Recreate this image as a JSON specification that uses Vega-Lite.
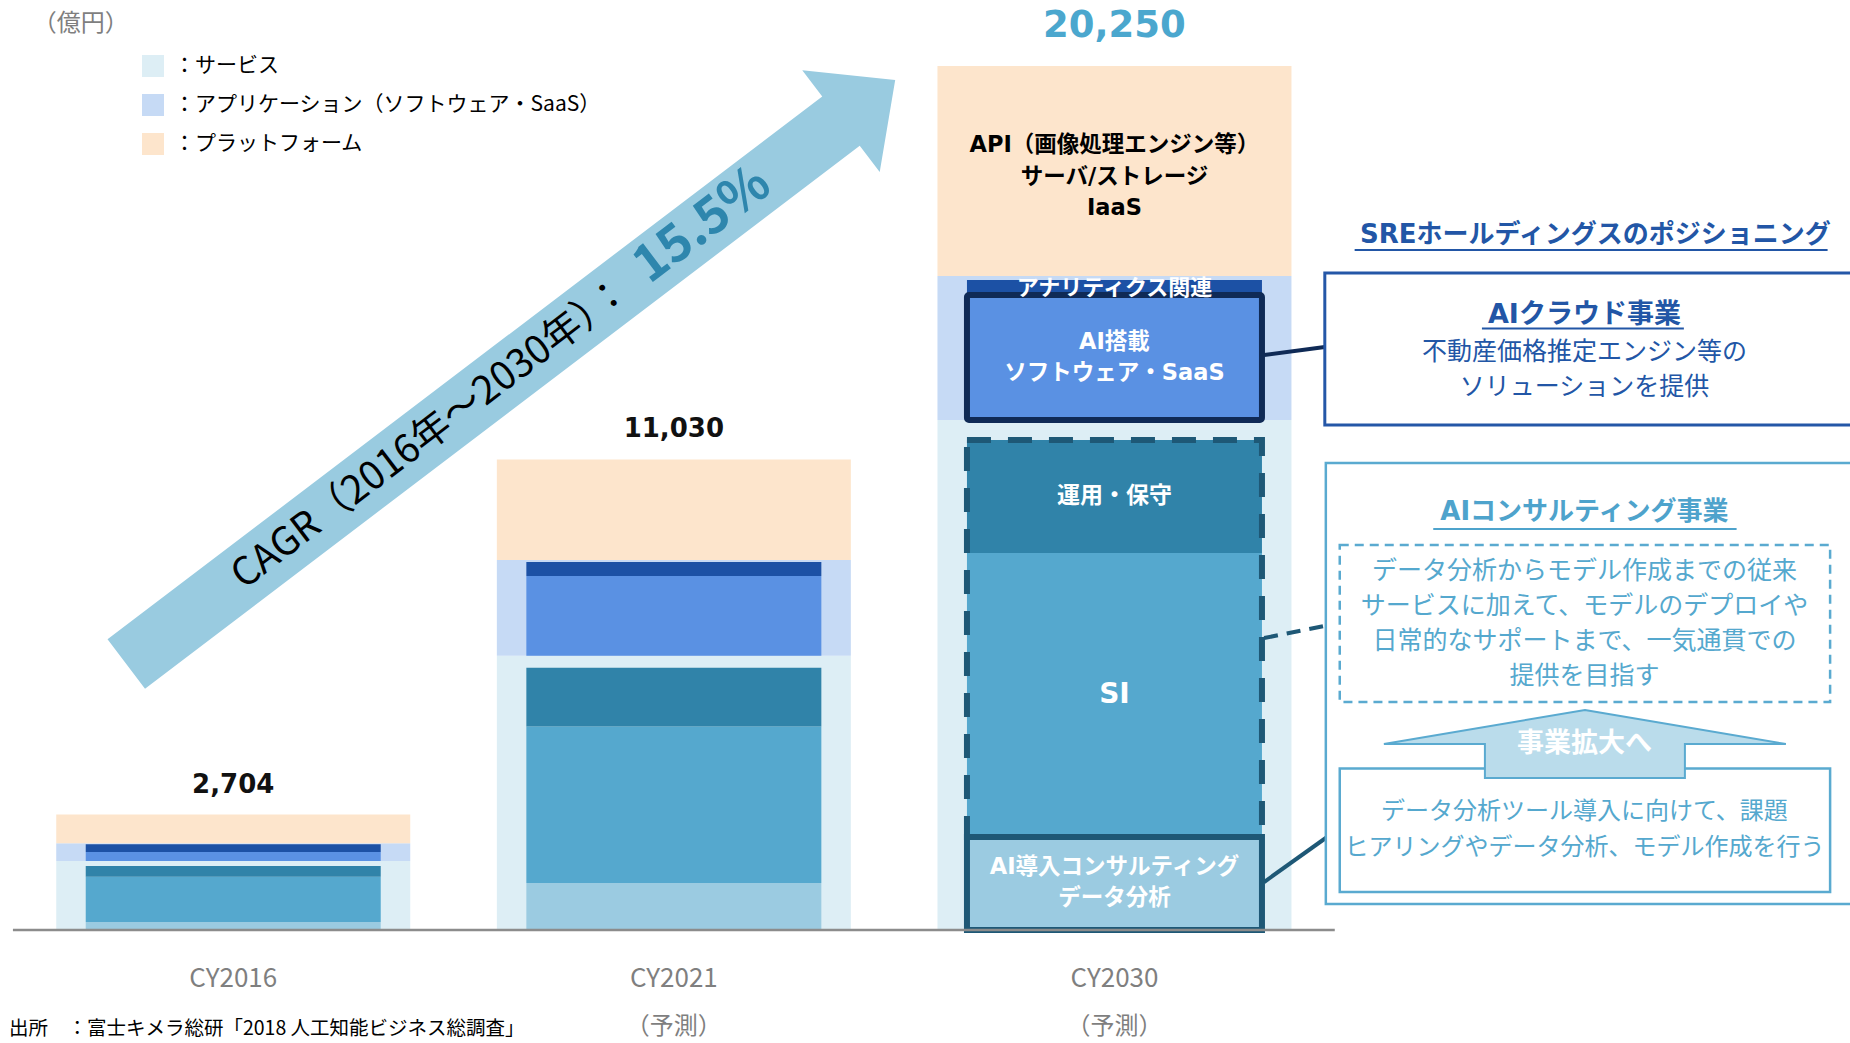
{
  "$schema": "https://vega.github.io/schema/vega-lite/v6.json",
  "width": 1850,
  "height": 1043,
  "padding": 0,
  "autosize": {"type": "none"},
  "background": "white",
  "config": {"view": {"stroke": null}},
  "datasets": {
    "outer": [
      {"year": "CY2016", "idx": 0, "seg": "サービス", "ord": 1, "value": 1618},
      {"year": "CY2016", "idx": 0, "seg": "アプリケーション（ソフトウェア・SaaS）", "ord": 2, "value": 416},
      {"year": "CY2016", "idx": 0, "seg": "プラットフォーム", "ord": 3, "value": 670},
      {"year": "CY2021", "idx": 1, "seg": "サービス", "ord": 1, "value": 6427},
      {"year": "CY2021", "idx": 1, "seg": "アプリケーション（ソフトウェア・SaaS）", "ord": 2, "value": 2243},
      {"year": "CY2021", "idx": 1, "seg": "プラットフォーム", "ord": 3, "value": 2360},
      {"year": "CY2030", "idx": 2, "seg": "サービス", "ord": 1, "value": 11953},
      {"year": "CY2030", "idx": 2, "seg": "アプリケーション（ソフトウェア・SaaS）", "ord": 2, "value": 3375},
      {"year": "CY2030", "idx": 2, "seg": "プラットフォーム", "ord": 3, "value": 4922, "note": "API（画像処理エンジン等）\nサーバ/ストレージ\nIaaS"}
    ],
    "inner": [
      {"year": "CY2016", "idx": 0, "seg": "AI導入コンサルティング・データ分析", "ord": 1, "value": 185},
      {"year": "CY2016", "idx": 0, "seg": "SI", "ord": 2, "value": 1063},
      {"year": "CY2016", "idx": 0, "seg": "運用・保守", "ord": 3, "value": 254},
      {"year": "CY2016", "idx": 0, "seg": "その他サービス", "ord": 4, "value": 116},
      {"year": "CY2016", "idx": 0, "seg": "AI搭載ソフトウェア・SaaS", "ord": 5, "value": 208},
      {"year": "CY2016", "idx": 0, "seg": "アナリティクス関連", "ord": 6, "value": 185},
      {"year": "CY2021", "idx": 1, "seg": "AI導入コンサルティング・データ分析", "ord": 1, "value": 1098},
      {"year": "CY2021", "idx": 1, "seg": "SI", "ord": 2, "value": 3669},
      {"year": "CY2021", "idx": 1, "seg": "運用・保守", "ord": 3, "value": 1379},
      {"year": "CY2021", "idx": 1, "seg": "その他サービス", "ord": 4, "value": 281},
      {"year": "CY2021", "idx": 1, "seg": "AI搭載ソフトウェア・SaaS", "ord": 5, "value": 1870},
      {"year": "CY2021", "idx": 1, "seg": "アナリティクス関連", "ord": 6, "value": 327},
      {"year": "CY2030", "idx": 2, "seg": "AI導入コンサルティング・データ分析", "ord": 1, "value": 2180, "label": "AI導入コンサルティング\nデータ分析"},
      {"year": "CY2030", "idx": 2, "seg": "SI", "ord": 2, "value": 6657, "label": "SI"},
      {"year": "CY2030", "idx": 2, "seg": "運用・保守", "ord": 3, "value": 2649, "label": "運用・保守"},
      {"year": "CY2030", "idx": 2, "seg": "その他サービス", "ord": 4, "value": 467},
      {"year": "CY2030", "idx": 2, "seg": "AI搭載ソフトウェア・SaaS", "ord": 5, "value": 2930, "label": "AI搭載\nソフトウェア・SaaS"},
      {"year": "CY2030", "idx": 2, "seg": "アナリティクス関連", "ord": 6, "value": 352, "label": "アナリティクス関連"}
    ],
    "years": [
      {"year": "CY2016", "idx": 0},
      {"year": "CY2021", "idx": 1, "note": "（予測）"},
      {"year": "CY2030", "idx": 2, "note": "（予測）"}
    ]
  },
  "layer": [
    {
      "data": {"values": [{"name": "CAGR"}]},
      "mark": {"type": "point", "shape": "M -1 -0.0642 L 0.859 -0.0642 L 0.859 -0.1326 L 1 0 L 0.859 0.1326 L 0.859 0.0642 L -1 0.0642 Z", "size": 932383, "angle": -37.22, "filled": true, "fill": "#99CBE0", "opacity": 1, "strokeWidth": 0},
      "encoding": {
        "x": {"datum": 0.6298, "scale": {"domain": [-0.518, 3.658]}, "axis": null},
        "y": {"datum": 13080, "scale": {"domain": [-2650, 21800]}, "axis": null}
      }
    },
    {
      "data": {"values": [{"name": "CAGR"}]},
      "mark": {"type": "text", "font": "Noto Sans CJK JP", "fontSize": 39, "angle": -37.22, "align": "center", "baseline": "middle", "color": "#000000"},
      "encoding": {
        "x": {"datum": 0.4485, "scale": {"domain": [-0.518, 3.658]}, "axis": null},
        "y": {"datum": 11650, "scale": {"domain": [-2650, 21800]}, "axis": null},
        "text": {"value": "CAGR（2016年～2030年）："}
      }
    },
    {
      "data": {"values": [{"name": "CAGR"}]},
      "mark": {"type": "text", "font": "Noto Sans CJK JP", "fontSize": 51, "fontWeight": "bold", "angle": -37.22, "align": "center", "baseline": "middle", "color": "#2E86AD"},
      "encoding": {
        "x": {"datum": 1.0652, "scale": {"domain": [-0.518, 3.658]}, "axis": null},
        "y": {"datum": 16514, "scale": {"domain": [-2650, 21800]}, "axis": null},
        "text": {"value": "15.5%"}
      }
    },
    {
      "data": {"values": [{"name": "unit"}]},
      "mark": {"type": "text", "font": "Noto Sans CJK JP", "fontSize": 24, "align": "left", "baseline": "middle", "color": "#7F7F7F"},
      "encoding": {
        "x": {"datum": -0.4549, "scale": {"domain": [-0.518, 3.658]}, "axis": null},
        "y": {"datum": 21237, "scale": {"domain": [-2650, 21800]}, "axis": null},
        "text": {"value": "（億円）"}
      }
    },
    {
      "data": {"name": "outer"},
      "transform": [{"stack": "value", "groupby": ["year"], "sort": [{"field": "ord", "order": "ascending"}], "as": ["v0", "v1"]}],
      "mark": {"type": "bar", "width": 354},
      "encoding": {
        "x": {"field": "idx", "type": "quantitative", "scale": {"domain": [-0.518, 3.658]}, "axis": null},
        "y": {"field": "v0", "type": "quantitative", "scale": {"domain": [-2650, 21800]}, "axis": null},
        "y2": {"field": "v1"},
        "color": {
          "field": "seg", "type": "nominal",
          "scale": {"domain": ["サービス", "アプリケーション（ソフトウェア・SaaS）", "プラットフォーム"], "range": ["#DDEEF5", "#C6DAF5", "#FDE5CC"]},
          "legend": {"title": null, "orient": "none", "legendX": 142, "legendY": 55, "padding": 0, "symbolType": "square", "symbolSize": 484, "symbolStrokeWidth": 0, "symbolOpacity": 1, "labelFont": "Noto Sans CJK JP", "labelFontSize": 21, "labelColor": "#000000", "labelExpr": "'：' + datum.label", "rowPadding": 17, "labelOffset": 10, "labelLimit": 700}
        }
      }
    },
    {
      "data": {"name": "inner"},
      "transform": [{"stack": "value", "groupby": ["year"], "sort": [{"field": "ord", "order": "ascending"}], "as": ["v0", "v1"]}],
      "mark": {"type": "bar", "width": 295},
      "encoding": {
        "x": {"field": "idx", "type": "quantitative", "scale": {"domain": [-0.518, 3.658]}, "axis": null},
        "y": {"field": "v0", "type": "quantitative", "scale": {"domain": [-2650, 21800]}, "axis": null},
        "y2": {"field": "v1"},
        "fill": {
          "field": "seg", "type": "nominal",
          "scale": {"domain": ["AI導入コンサルティング・データ分析", "SI", "運用・保守", "その他サービス", "AI搭載ソフトウェア・SaaS", "アナリティクス関連"], "range": ["#9BCBE1", "#55A8CE", "#3083A9", "transparent", "#5A91E3", "#1C51A5"]},
          "legend": null
        }
      }
    },
    {
      "data": {"name": "inner"},
      "transform": [
        {"stack": "value", "groupby": ["year"], "sort": [{"field": "ord", "order": "ascending"}], "as": ["v0", "v1"]},
        {"filter": "datum.year === 'CY2030' && (datum.seg === 'SI' || datum.seg === '運用・保守')"},
        {"aggregate": [{"op": "min", "field": "v0", "as": "lo"}, {"op": "max", "field": "v1", "as": "hi"}], "groupby": ["idx"]}
      ],
      "mark": {"type": "bar", "width": 295, "fillOpacity": 0, "stroke": "#1E5876", "strokeWidth": 6, "strokeDash": [24, 17]},
      "encoding": {
        "x": {"field": "idx", "type": "quantitative", "scale": {"domain": [-0.518, 3.658]}, "axis": null},
        "y": {"field": "lo", "type": "quantitative", "scale": {"domain": [-2650, 21800]}, "axis": null},
        "y2": {"field": "hi"}
      }
    },
    {
      "data": {"name": "inner"},
      "transform": [
        {"stack": "value", "groupby": ["year"], "sort": [{"field": "ord", "order": "ascending"}], "as": ["v0", "v1"]},
        {"filter": "datum.year === 'CY2030' && datum.seg === 'AI導入コンサルティング・データ分析'"}
      ],
      "mark": {"type": "bar", "width": 295, "fillOpacity": 0, "stroke": "#1E5876", "strokeWidth": 6},
      "encoding": {
        "x": {"field": "idx", "type": "quantitative", "scale": {"domain": [-0.518, 3.658]}, "axis": null},
        "y": {"field": "v0", "type": "quantitative", "scale": {"domain": [-2650, 21800]}, "axis": null},
        "y2": {"field": "v1"}
      }
    },
    {
      "data": {"name": "inner"},
      "transform": [
        {"stack": "value", "groupby": ["year"], "sort": [{"field": "ord", "order": "ascending"}], "as": ["v0", "v1"]},
        {"filter": "datum.year === 'CY2030' && datum.seg === 'AI搭載ソフトウェア・SaaS'"}
      ],
      "mark": {"type": "bar", "width": 295, "fillOpacity": 0, "stroke": "#0F2A56", "strokeWidth": 6, "cornerRadius": 2},
      "encoding": {
        "x": {"field": "idx", "type": "quantitative", "scale": {"domain": [-0.518, 3.658]}, "axis": null},
        "y": {"field": "v0", "type": "quantitative", "scale": {"domain": [-2650, 21800]}, "axis": null},
        "y2": {"field": "v1"}
      }
    },
    {
      "data": {"values": [{"link": "cloud"}]},
      "mark": {"type": "rule", "color": "#0F2A56", "strokeWidth": 4},
      "encoding": {
        "x": {"datum": 2.3397, "scale": {"domain": [-0.518, 3.658]}, "axis": null},
        "y": {"datum": 13478, "scale": {"domain": [-2650, 21800]}, "axis": null},
        "x2": {"datum": 2.4774},
        "y2": {"datum": 13666}
      }
    },
    {
      "data": {"values": [{"link": "consult"}]},
      "mark": {"type": "rule", "color": "#1E5876", "strokeWidth": 4, "strokeDash": [14, 9]},
      "encoding": {
        "x": {"datum": 2.3397, "scale": {"domain": [-0.518, 3.658]}, "axis": null},
        "y": {"datum": 6844, "scale": {"domain": [-2650, 21800]}, "axis": null},
        "x2": {"datum": 2.5113},
        "y2": {"datum": 7196}
      }
    },
    {
      "data": {"values": [{"link": "analysis"}]},
      "mark": {"type": "rule", "color": "#1E5876", "strokeWidth": 4},
      "encoding": {
        "x": {"datum": 2.3397, "scale": {"domain": [-0.518, 3.658]}, "axis": null},
        "y": {"datum": 1124, "scale": {"domain": [-2650, 21800]}, "axis": null},
        "x2": {"datum": 2.5113},
        "y2": {"datum": 2390}
      }
    },
    {
      "data": {"name": "inner"},
      "transform": [
        {"stack": "value", "groupby": ["year"], "sort": [{"field": "ord", "order": "ascending"}], "as": ["v0", "v1"]},
        {"filter": "datum.label && indexof(datum.label, '\\n') < 0"},
        {"fold": ["v0", "v1"], "as": ["edge", "pos"]},
        {"aggregate": [{"op": "mean", "field": "pos", "as": "mid"}], "groupby": ["idx", "label"]}
      ],
      "mark": {"type": "text", "font": "DejaVu Sans, Noto Sans CJK JP", "fontWeight": "bold", "color": "#FFFFFF", "align": "center", "baseline": "middle"},
      "encoding": {
        "x": {"field": "idx", "type": "quantitative", "scale": {"domain": [-0.518, 3.658]}, "axis": null},
        "y": {"field": "mid", "type": "quantitative", "scale": {"domain": [-2650, 21800]}, "axis": null},
        "text": {"field": "label"},
        "size": {"condition": [{"test": "datum.label === 'SI'", "value": 28}, {"test": "datum.label === '運用・保守'", "value": 23}], "value": 22}
      }
    },
    {
      "data": {"name": "inner"},
      "transform": [
        {"stack": "value", "groupby": ["year"], "sort": [{"field": "ord", "order": "ascending"}], "as": ["v0", "v1"]},
        {"filter": "datum.label && indexof(datum.label, '\\n') >= 0"},
        {"fold": ["v0", "v1"], "as": ["edge", "pos"]},
        {"aggregate": [{"op": "mean", "field": "pos", "as": "mid"}], "groupby": ["idx", "label"]}
      ],
      "mark": {"type": "text", "font": "DejaVu Sans, Noto Sans CJK JP", "fontWeight": "bold", "fontSize": 22.5, "color": "#FFFFFF", "align": "center", "baseline": "middle", "lineBreak": "\n", "lineHeight": 31, "dy": -16},
      "encoding": {
        "x": {"field": "idx", "type": "quantitative", "scale": {"domain": [-0.518, 3.658]}, "axis": null},
        "y": {"field": "mid", "type": "quantitative", "scale": {"domain": [-2650, 21800]}, "axis": null},
        "text": {"field": "label"}
      }
    },
    {
      "data": {"name": "outer"},
      "transform": [
        {"stack": "value", "groupby": ["year"], "sort": [{"field": "ord", "order": "ascending"}], "as": ["v0", "v1"]},
        {"filter": "datum.note"},
        {"fold": ["v0", "v1"], "as": ["edge", "pos"]},
        {"aggregate": [{"op": "mean", "field": "pos", "as": "mid"}], "groupby": ["idx", "note"]}
      ],
      "mark": {"type": "text", "font": "DejaVu Sans, Noto Sans CJK JP", "fontWeight": "bold", "fontSize": 22.5, "color": "#000000", "align": "center", "baseline": "middle", "lineBreak": "\n", "lineHeight": 31.5, "dy": -26},
      "encoding": {
        "x": {"field": "idx", "type": "quantitative", "scale": {"domain": [-0.518, 3.658]}, "axis": null},
        "y": {"field": "mid", "type": "quantitative", "scale": {"domain": [-2650, 21800]}, "axis": null},
        "text": {"field": "note"}
      }
    },
    {
      "data": {"name": "outer"},
      "transform": [
        {"filter": "datum.year !== 'CY2030'"},
        {"aggregate": [{"op": "sum", "field": "value", "as": "total"}], "groupby": ["year", "idx"]}
      ],
      "mark": {"type": "text", "font": "DejaVu Sans", "fontWeight": "bold", "fontSize": 26, "color": "#111111", "align": "center", "baseline": "alphabetic", "dy": -22},
      "encoding": {
        "x": {"field": "idx", "type": "quantitative", "scale": {"domain": [-0.518, 3.658]}, "axis": null},
        "y": {"field": "total", "type": "quantitative", "scale": {"domain": [-2650, 21800]}, "axis": null},
        "text": {"field": "total", "type": "quantitative", "format": ","}
      }
    },
    {
      "data": {"name": "outer"},
      "transform": [
        {"filter": "datum.year === 'CY2030'"},
        {"aggregate": [{"op": "sum", "field": "value", "as": "total"}], "groupby": ["year", "idx"]}
      ],
      "mark": {"type": "text", "font": "DejaVu Sans", "fontWeight": "bold", "fontSize": 37, "color": "#4BA7CE", "align": "center", "baseline": "alphabetic", "dy": -29},
      "encoding": {
        "x": {"field": "idx", "type": "quantitative", "scale": {"domain": [-0.518, 3.658]}, "axis": null},
        "y": {"field": "total", "type": "quantitative", "scale": {"domain": [-2650, 21800]}, "axis": null},
        "text": {"field": "total", "type": "quantitative", "format": ","}
      }
    },
    {
      "data": {"values": [{"line": "baseline"}]},
      "mark": {"type": "rule", "color": "#8C8C8C", "strokeWidth": 2.5},
      "encoding": {
        "x": {"datum": -0.5, "scale": {"domain": [-0.518, 3.658]}, "axis": null},
        "x2": {"datum": 2.5},
        "y": {"datum": 0, "scale": {"domain": [-2650, 21800]}, "axis": null}
      }
    },
    {
      "data": {"name": "years"},
      "mark": {"type": "text", "font": "Noto Sans CJK JP", "fontSize": 26, "color": "#7F7F7F", "align": "center", "baseline": "middle"},
      "encoding": {
        "x": {"field": "idx", "type": "quantitative", "scale": {"domain": [-0.518, 3.658]}, "axis": null},
        "y": {"datum": -1150, "scale": {"domain": [-2650, 21800]}, "axis": null},
        "text": {"field": "year"}
      }
    },
    {
      "data": {"name": "years"},
      "transform": [{"filter": "datum.note"}],
      "mark": {"type": "text", "font": "Noto Sans CJK JP", "fontSize": 24, "color": "#7F7F7F", "align": "center", "baseline": "middle"},
      "encoding": {
        "x": {"field": "idx", "type": "quantitative", "scale": {"domain": [-0.518, 3.658]}, "axis": null},
        "y": {"datum": -2275, "scale": {"domain": [-2650, 21800]}, "axis": null},
        "text": {"field": "note"}
      }
    },
    {
      "data": {"values": [{"name": "source"}]},
      "mark": {"type": "text", "font": "Noto Sans CJK JP", "fontSize": 19.5, "color": "#000000", "align": "left", "baseline": "middle"},
      "encoding": {
        "x": {"datum": -0.509, "scale": {"domain": [-0.518, 3.658]}, "axis": null},
        "y": {"datum": -2322, "scale": {"domain": [-2650, 21800]}, "axis": null},
        "text": {"value": "出所　：富士キメラ総研「2018 人工知能ビジネス総調査」"}
      }
    },
    {
      "data": {"values": [{"box": "cloud"}]},
      "mark": {"type": "rect", "fill": "#FFFFFF", "stroke": "#2557A7", "strokeWidth": 3},
      "encoding": {
        "x": {"datum": 2.4774, "scale": {"domain": [-0.518, 3.658]}, "axis": null},
        "x2": {"datum": 3.72},
        "y": {"datum": 15400, "scale": {"domain": [-2650, 21800]}, "axis": null},
        "y2": {"datum": 11837}
      }
    },
    {
      "data": {"values": [{"name": "title"}]},
      "mark": {"type": "text", "font": "DejaVu Sans, Noto Sans CJK JP", "fontWeight": "bold", "fontSize": 26, "color": "#2256A6", "align": "center", "baseline": "middle"},
      "encoding": {
        "x": {"datum": 3.0914, "scale": {"domain": [-0.518, 3.658]}, "axis": null},
        "y": {"datum": 16291, "scale": {"domain": [-2650, 21800]}, "axis": null},
        "text": {"value": "SREホールディングスのポジショニング"}
      }
    },
    {
      "data": {"values": [{"line": "title underline"}]},
      "mark": {"type": "rule", "color": "#2256A6", "strokeWidth": 2},
      "encoding": {
        "x": {"datum": 2.5451, "scale": {"domain": [-0.518, 3.658]}, "axis": null},
        "x2": {"datum": 3.6185},
        "y": {"datum": 15940, "scale": {"domain": [-2650, 21800]}, "axis": null}
      }
    },
    {
      "data": {"values": [{"name": "cloud title"}]},
      "mark": {"type": "text", "font": "DejaVu Sans, Noto Sans CJK JP", "fontWeight": "bold", "fontSize": 27, "color": "#2256A6", "align": "center", "baseline": "middle"},
      "encoding": {
        "x": {"datum": 3.0666, "scale": {"domain": [-0.518, 3.658]}, "axis": null},
        "y": {"datum": 14416, "scale": {"domain": [-2650, 21800]}, "axis": null},
        "text": {"value": "AIクラウド事業"}
      }
    },
    {
      "data": {"values": [{"line": "cloud underline"}]},
      "mark": {"type": "rule", "color": "#2256A6", "strokeWidth": 2},
      "encoding": {
        "x": {"datum": 2.834, "scale": {"domain": [-0.518, 3.658]}, "axis": null},
        "x2": {"datum": 3.2923},
        "y": {"datum": 14100, "scale": {"domain": [-2650, 21800]}, "axis": null}
      }
    },
    {
      "data": {"values": [{"name": "cloud text"}]},
      "mark": {"type": "text", "font": "Noto Sans CJK JP", "fontSize": 25, "color": "#2256A6", "align": "center", "baseline": "middle", "lineHeight": 35},
      "encoding": {
        "x": {"datum": 3.0666, "scale": {"domain": [-0.518, 3.658]}, "axis": null},
        "y": {"datum": 13548, "scale": {"domain": [-2650, 21800]}, "axis": null},
        "text": {"value": ["不動産価格推定エンジン等の", "ソリューションを提供"]}
      }
    },
    {
      "data": {"values": [{"box": "consult"}]},
      "mark": {"type": "rect", "fill": "#FFFFFF", "stroke": "#5AAAD0", "strokeWidth": 2.5},
      "encoding": {
        "x": {"datum": 2.4797, "scale": {"domain": [-0.518, 3.658]}, "axis": null},
        "x2": {"datum": 3.72},
        "y": {"datum": 10946, "scale": {"domain": [-2650, 21800]}, "axis": null},
        "y2": {"datum": 608}
      }
    },
    {
      "data": {"values": [{"name": "consult title"}]},
      "mark": {"type": "text", "font": "DejaVu Sans, Noto Sans CJK JP", "fontWeight": "bold", "fontSize": 26, "color": "#4EA3CC", "align": "center", "baseline": "middle"},
      "encoding": {
        "x": {"datum": 3.0666, "scale": {"domain": [-0.518, 3.658]}, "axis": null},
        "y": {"datum": 9798, "scale": {"domain": [-2650, 21800]}, "axis": null},
        "text": {"value": "AIコンサルティング事業"}
      }
    },
    {
      "data": {"values": [{"line": "consult underline"}]},
      "mark": {"type": "rule", "color": "#4EA3CC", "strokeWidth": 2},
      "encoding": {
        "x": {"datum": 2.7235, "scale": {"domain": [-0.518, 3.658]}, "axis": null},
        "x2": {"datum": 3.412},
        "y": {"datum": 9399, "scale": {"domain": [-2650, 21800]}, "axis": null}
      }
    },
    {
      "data": {"values": [{"box": "future"}]},
      "mark": {"type": "rect", "fillOpacity": 0, "stroke": "#5AAAD0", "strokeWidth": 2.5, "strokeDash": [9, 6]},
      "encoding": {
        "x": {"datum": 2.5113, "scale": {"domain": [-0.518, 3.658]}, "axis": null},
        "x2": {"datum": 3.6242},
        "y": {"datum": 9024, "scale": {"domain": [-2650, 21800]}, "axis": null},
        "y2": {"datum": 5344}
      }
    },
    {
      "data": {"values": [{"name": "future text"}]},
      "mark": {"type": "text", "font": "Noto Sans CJK JP", "fontSize": 25, "color": "#55A8CE", "align": "center", "baseline": "middle", "lineHeight": 35},
      "encoding": {
        "x": {"datum": 3.0666, "scale": {"domain": [-0.518, 3.658]}, "axis": null},
        "y": {"datum": 8415, "scale": {"domain": [-2650, 21800]}, "axis": null},
        "text": {"value": ["データ分析からモデル作成までの従来", "サービスに加えて、モデルのデプロイや", "日常的なサポートまで、一気通貫での", "提供を目指す"]}
      }
    },
    {
      "data": {"values": [{"box": "now"}]},
      "mark": {"type": "rect", "fill": "#FFFFFF", "stroke": "#5AAAD0", "strokeWidth": 2.5},
      "encoding": {
        "x": {"datum": 2.5113, "scale": {"domain": [-0.518, 3.658]}, "axis": null},
        "x2": {"datum": 3.6242},
        "y": {"datum": 3782, "scale": {"domain": [-2650, 21800]}, "axis": null},
        "y2": {"datum": 890}
      }
    },
    {
      "data": {"values": [{"name": "now text"}]},
      "mark": {"type": "text", "font": "Noto Sans CJK JP", "fontSize": 24, "color": "#55A8CE", "align": "center", "baseline": "middle", "lineHeight": 35.5},
      "encoding": {
        "x": {"datum": 3.0666, "scale": {"domain": [-0.518, 3.658]}, "axis": null},
        "y": {"datum": 2765, "scale": {"domain": [-2650, 21800]}, "axis": null},
        "text": {"value": ["データ分析ツール導入に向けて、課題", "ヒアリングやデータ分析、モデル作成を行う"]}
      }
    },
    {
      "data": {"values": [{"name": "expand"}]},
      "mark": {"type": "point", "shape": "M 0 -0.1692 L 1 0 L 0.4975 0 L 0.4975 0.1692 L -0.4975 0.1692 L -0.4975 0 L -1 0 Z", "size": 161604, "filled": true, "fill": "#BADCEB", "stroke": "#5AAAD0", "strokeWidth": 2, "opacity": 1},
      "encoding": {
        "x": {"datum": 3.0677, "scale": {"domain": [-0.518, 3.658]}, "axis": null},
        "y": {"datum": 4359, "scale": {"domain": [-2650, 21800]}, "axis": null}
      }
    },
    {
      "data": {"values": [{"name": "expand text"}]},
      "mark": {"type": "text", "font": "Noto Sans CJK JP", "fontWeight": "bold", "fontSize": 27, "color": "#FFFFFF", "align": "center", "baseline": "middle"},
      "encoding": {
        "x": {"datum": 3.0666, "scale": {"domain": [-0.518, 3.658]}, "axis": null},
        "y": {"datum": 4359, "scale": {"domain": [-2650, 21800]}, "axis": null},
        "text": {"value": "事業拡大へ"}
      }
    }
  ]
}
